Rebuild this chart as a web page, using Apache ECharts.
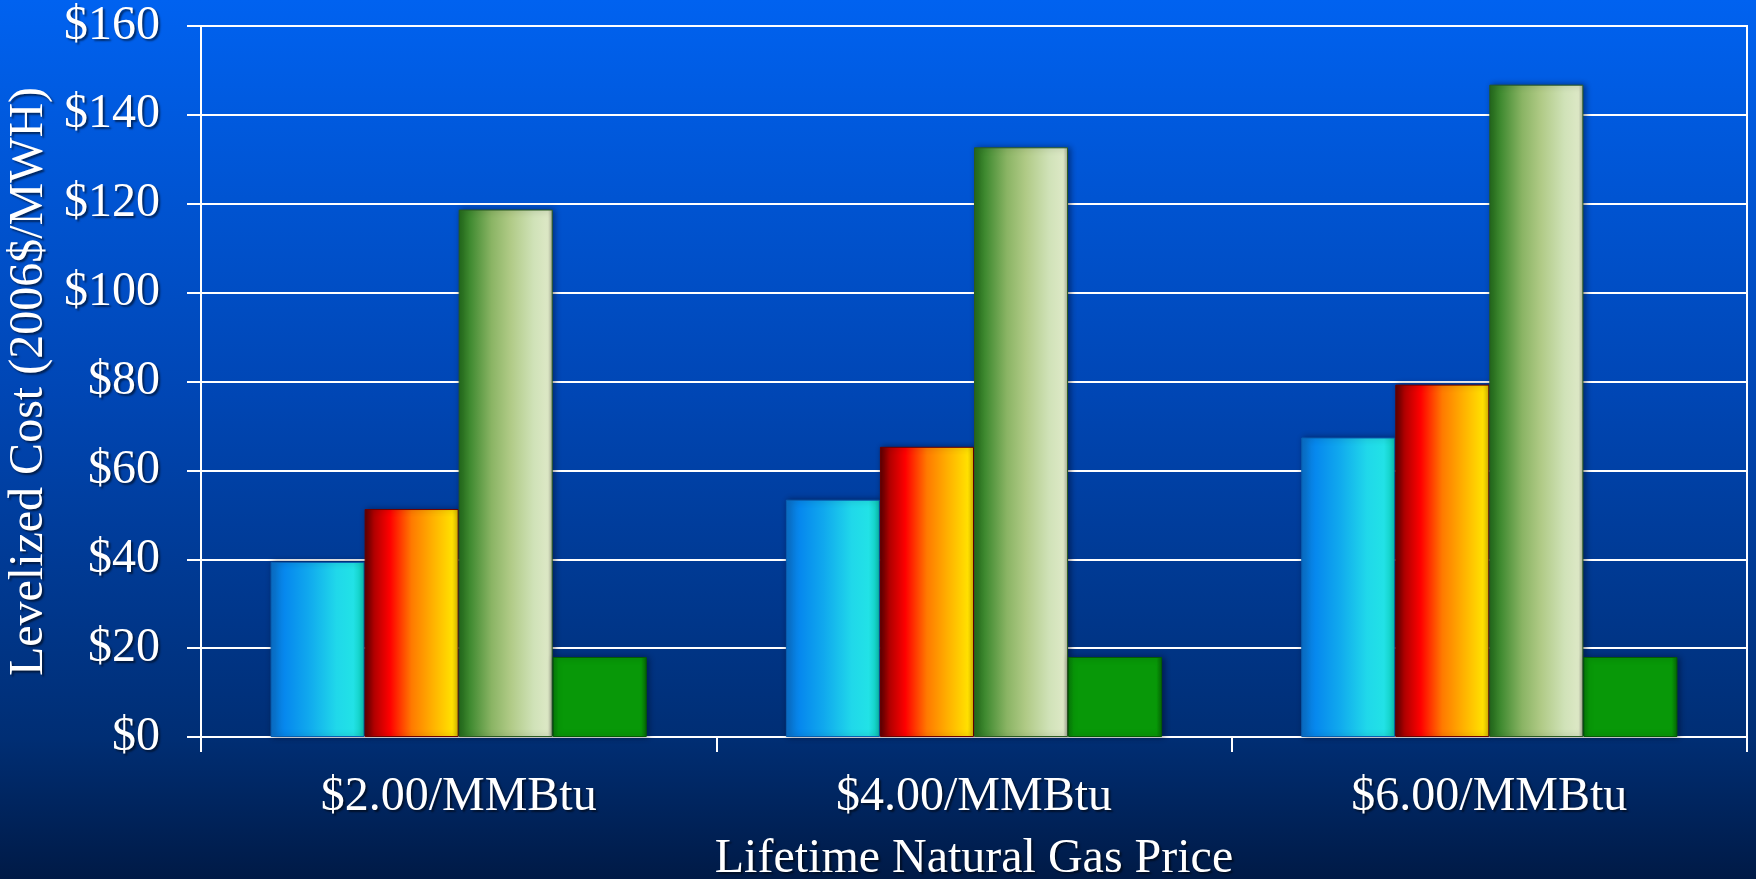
<!DOCTYPE html>
<html>
<head>
<meta charset="utf-8">
<script src="https://cdn.jsdelivr.net/npm/echarts@6/dist/echarts.min.js"></script>
<style>
html,body{margin:0;padding:0;background:#002a6a;}
#chart{width:1756px;height:879px;}
</style>
</head>
<body>
<div id="chart"></div>
<script>
const categories = ['$2.00/MMBtu', '$4.00/MMBtu', '$6.00/MMBtu'];
const seriesBlue = [39.4, 53.4, 67.4];
const seriesRed = [51.3, 65.3, 79.3];
const seriesLightGreen = [118.7, 132.7, 146.8];
const seriesGreen = [18.0, 18.0, 18.0];
const yTicks = [0, 20, 40, 60, 80, 100, 120, 140, 160];

const G = echarts.graphic.LinearGradient;
const font = '"Liberation Serif", "Times New Roman", serif';
const shadowText = {textShadowColor:'rgba(0,0,0,0.55)', textShadowBlur:2, textShadowOffsetX:2, textShadowOffsetY:2};

function bar(name, data, stops, border) {
  return {
    name: name, type: 'bar', data: data, barGap: '0%', barCategoryGap: '27%',
    itemStyle: {
      color: new G(0, 0, 1, 0, stops),
      borderColor: border, borderWidth: 1,
      shadowColor: 'rgba(0,0,20,0.45)', shadowBlur: 6, shadowOffsetX: 2, shadowOffsetY: 0
    }
  };
}

const chart = echarts.init(document.getElementById('chart'));
chart.setOption({
  backgroundColor: new G(0, 0, 0, 1, [
    {offset: 0, color: '#0062f0'},
    {offset: 0.45, color: '#0046b4'},
    {offset: 0.84, color: '#002e74'},
    {offset: 1, color: '#001a46'}
  ]),
  animation: false,
  grid: {left: 201, right: 9, top: 26, bottom: 142, containLabel: false, outerBoundsMode: 'none',
         show: true, borderColor: '#ffffff', borderWidth: 2},
  xAxis: {
    type: 'category', data: categories,
    axisLine: {lineStyle: {color: '#ffffff', width: 2}},
    axisTick: {show: true, length: 15, lineStyle: {color: '#ffffff', width: 2}},
    axisLabel: Object.assign({color: '#ffffff', fontFamily: font, fontSize: 48, margin: 36}, shadowText),
    name: 'Lifetime Natural Gas Price', nameLocation: 'middle', nameGap: 98,
    nameTextStyle: Object.assign({color: '#ffffff', fontFamily: font, fontSize: 48}, shadowText)
  },
  yAxis: {
    type: 'value', min: 0, max: 160, interval: 20,
    axisLine: {show: true, lineStyle: {color: '#ffffff', width: 2}},
    axisTick: {show: true, length: 14, lineStyle: {color: '#ffffff', width: 2}},
    splitLine: {lineStyle: {color: '#ffffff', width: 2}},
    axisLabel: Object.assign({color: '#ffffff', fontFamily: font, fontSize: 48, margin: 41,
      formatter: function (v) { return yTicks.indexOf(v) >= 0 ? '$' + v : ''; }}, shadowText),
    name: 'Levelized Cost (2006$/MWH)', nameLocation: 'middle', nameGap: 141, nameRotate: 90,
    nameTextStyle: Object.assign({color: '#ffffff', fontFamily: font, fontSize: 48}, shadowText)
  },
  series: [
    bar('Blue', seriesBlue, [
      {offset: 0, color: '#0a6fc8'}, {offset: 0.15, color: '#0688ee'}, {offset: 0.4, color: '#10a8ee'},
      {offset: 0.7, color: '#20d8ea'}, {offset: 0.88, color: '#22e2e6'}, {offset: 1, color: '#0cc8b4'}
    ], '#0a5fb0'),
    bar('Red', seriesRed, [
      {offset: 0, color: '#5a0000'}, {offset: 0.1, color: '#b00000'}, {offset: 0.27, color: '#ff0000'},
      {offset: 0.5, color: '#ff7a00'}, {offset: 0.72, color: '#ffb000'}, {offset: 0.93, color: '#ffe000'},
      {offset: 1, color: '#e0c000'}
    ], '#6a0000'),
    bar('LightGreen', seriesLightGreen, [
      {offset: 0, color: '#236b1a'}, {offset: 0.12, color: '#3f8a30'}, {offset: 0.35, color: '#8ab464'},
      {offset: 0.55, color: '#b0ca86'}, {offset: 0.8, color: '#d0e2b8'}, {offset: 0.95, color: '#dde8c6'},
      {offset: 1, color: '#a8ae98'}
    ], '#2a5a20'),
    bar('Green', seriesGreen, [
      {offset: 0, color: '#077a07'}, {offset: 0.06, color: '#089808'}, {offset: 0.94, color: '#089808'},
      {offset: 1, color: '#066806'}
    ], '#055a05')
  ]
});
</script>
</body>
</html>
